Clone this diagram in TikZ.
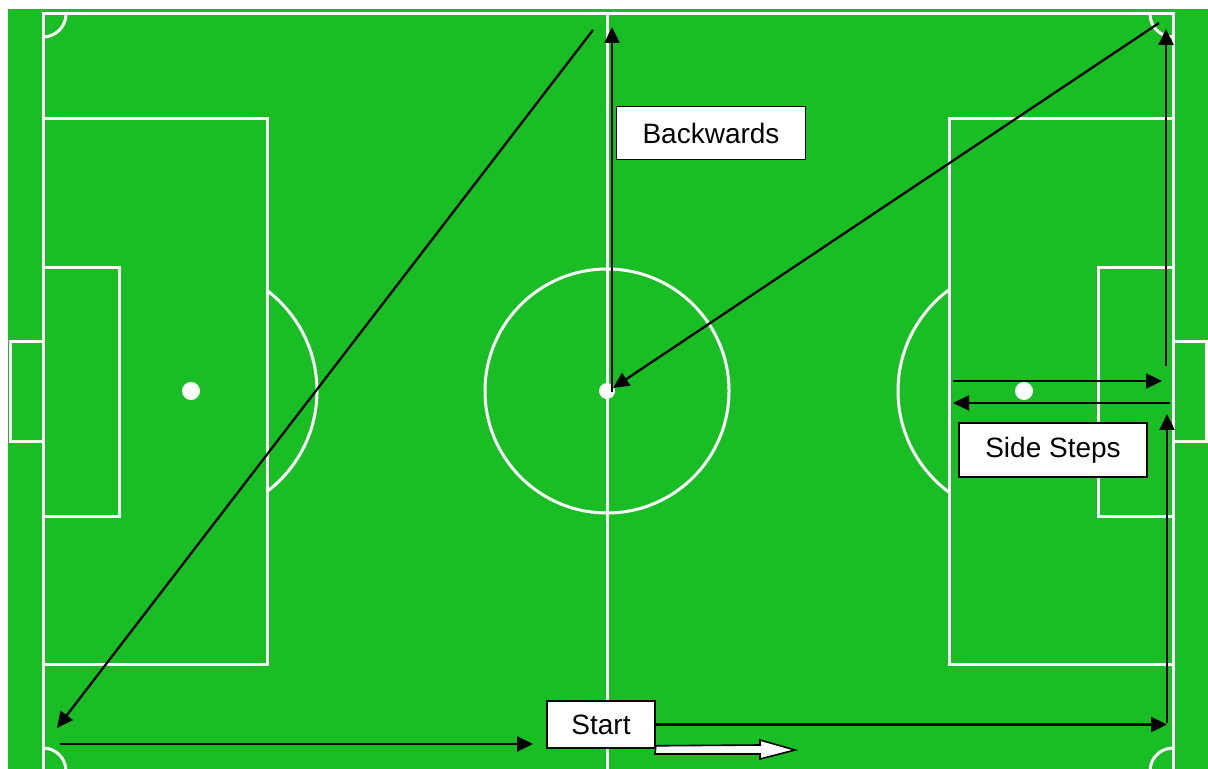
\documentclass[tikz,border=0pt]{standalone}
\usepackage{fontspec}
\setmainfont{Liberation Sans}
\usepackage{tikz}
\usetikzlibrary{arrows.meta, calc}
\definecolor{pitch}{RGB}{25,190,36}
\tikzset{x=.5pt,y=-.5pt}
\tikzset{
  chalk/.style={white, line width=1.5pt},
  run/.style={black, line width=1.15pt, -{Triangle[length=8pt,width=7.5pt]}},
  tag/.style={draw=black, line width=.8pt, fill=white, inner sep=0pt,
    font=\fontsize{14pt}{16pt}\selectfont},
}

\begin{document}
\begin{tikzpicture}
    \useasboundingbox (0,0) rectangle (1208,769);
    \fill[white] (0,0) rectangle (1208,769);
    \fill[pitch] (8,9) rectangle (1208,769);
    % goals
    \draw[chalk] (10,342) rectangle (43,441);
    \draw[chalk] (1173,342) rectangle (1206,441);
    \begin{scope}
      \clip (8,9) rectangle (1208,769);
      % touch lines and halfway line
      \draw[chalk] (43,14) rectangle (1173,771);
      \draw[chalk] (607,14) -- (607,771);
      % corners
      \clip (43,14) rectangle (1173,771);
      \foreach \cx/\cy in {43/14, 1173/14, 43/771, 1173/771}
        \draw[chalk] (\cx,\cy) circle (23);
    \end{scope}
    % left half
    \draw[chalk] (43,119) rectangle (267,664);
    \draw[chalk] (43,268) rectangle (119,516);
    \fill[white] (191,391) circle (9);
    \begin{scope}
      \clip (267,200) rectangle (400,600);
      \draw[chalk] (191,391) circle (126);
    \end{scope}
    % right half
    \draw[chalk] (949,119) rectangle (1173,664);
    \draw[chalk] (1098,268) rectangle (1173,516);
    \fill[white] (1024,391) circle (9);
    \begin{scope}
      \clip (800,200) rectangle (949,600);
      \draw[chalk] (1024,391) circle (126);
    \end{scope}
    % centre
    \draw[chalk] (607,391) circle (122);
    \fill[white] (607,391) circle (8);

    % labels
    \node[tag, minimum width=94.5pt, minimum height=26.5pt] (backwards) at (711,133) {Backwards};
    \node[tag, minimum width=94pt, minimum height=27pt] (sidesteps) at (1053,450) {Side Steps};
    \node[tag, minimum width=54pt, minimum height=23.5pt] (start) at (601,724.5) {Start};

    % route
    \coordinate (farhalf) at (593,30);
    \coordinate (cornerbl) at (57,728);
    \coordinate (goalline) at (60,744);
    \coordinate (tostart) at (533,744);
    \coordinate (cornerbr) at (1167,723);
    \coordinate (sidelow) at (1167,414);
    \coordinate (sshigh) at (953,381);
    \coordinate (sshighend) at (1162,381);
    \coordinate (sslow) at (1170,403);
    \coordinate (sslowend) at (953,403);
    \coordinate (sideup) at (1166,366);
    \coordinate (cornertr) at (1166,29);
    \coordinate (flagtr) at (1159,23);
    \coordinate (spot) at (613,388);
    \coordinate (spotup) at (612,392);
    \coordinate (halftop) at (612,27);

    \draw[run] (farhalf) -- (cornerbl);
    \draw[run] (goalline) -- (tostart);
    \draw[run] (start.east) -- (start.east -| cornerbr);
    \draw[run] (cornerbr) -- (sidelow);
    \draw[run] (sshigh) -- (sshighend);
    \draw[run] (sslow) -- (sslowend);
    \draw[run] (sideup) -- (cornertr);
    \draw[run] (flagtr) -- (spot);
    \draw[run] (spotup) -- (halftop);

    % open arrow under start
    \draw[black, line width=.8pt, fill=white]
      (start.south east) ++(0,-3) -- (760,745) -- (760,740) -- (795,750)
      -- (760,759) -- (760,754) -- (655,754) -- cycle;
\end{tikzpicture}
\end{document}
